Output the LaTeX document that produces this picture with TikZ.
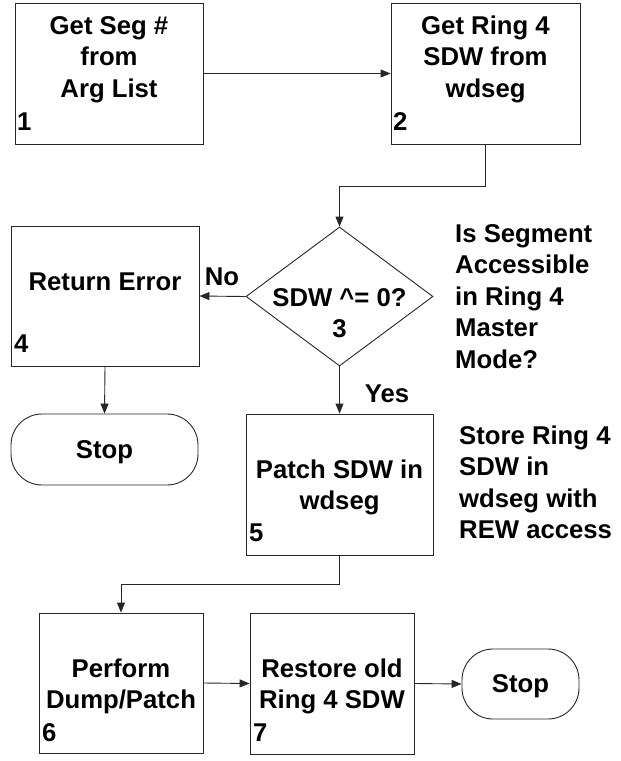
\documentclass[tikz,border=0pt]{standalone}
\usepackage{fontspec}
\setmainfont{Liberation Sans}
\usetikzlibrary{arrows.meta,shapes.geometric}
\newcommand\mlc[1]{\begin{tabular}[t]{@{}c@{}}#1\end{tabular}}
\newcommand\mll[1]{\begin{tabular}[t]{@{}l@{}}#1\end{tabular}}
\tikzset{
  box/.style={draw=black!85, line width=0.9pt, inner sep=0pt, rectangle},
  stopbox/.style={draw=black!85, line width=0.9pt, inner sep=0pt, rectangle, rounded corners=31pt},
  dia/.style={draw=black!85, line width=0.9pt, inner sep=0pt, diamond},
  txt/.style={font=\bfseries\fontsize{25.7}{31.5}\selectfont, inner sep=0pt, anchor=base},
  lefttxt/.style={txt, anchor=base west},
  num/.style={font=\bfseries\fontsize{25.7}{31.5}\selectfont, inner sep=0pt, anchor=base west},
  arr/.style={draw=black!85, line width=0.9pt, -{Triangle[length=10pt,width=8pt]}},
}
\begin{document}
\begin{tikzpicture}[x=1pt,y=-1pt]
\useasboundingbox (0,0) rectangle (621,761);
% shapes
\node[box, minimum width=188pt, minimum height=141pt] (b1) at (109,73.5) {};
\node[box, minimum width=189pt, minimum height=141pt] (b2) at (485.5,73.5) {};
\node[dia, minimum width=187pt, minimum height=139pt] (d3) at (339.5,296.5) {};
\node[box, minimum width=188pt, minimum height=140pt] (b4) at (105,296) {};
\node[stopbox, minimum width=187pt, minimum height=71pt] (s1) at (104.5,449.5) {};
\node[box, minimum width=187pt, minimum height=141pt] (b5) at (339.5,484.5) {};
\node[box, minimum width=164pt, minimum height=140pt] (b6) at (121,683) {};
\node[box, minimum width=164pt, minimum height=141pt] (b7) at (332,683.5) {};
\node[stopbox, minimum width=117pt, minimum height=70pt] (s2) at (520.5,684) {};
% texts
\node[txt] (t1) at (109,34) {\mlc{Get Seg \#\\from\\Arg List}};
\node[txt] (t2) at (485.5,34) {\mlc{Get Ring 4\\SDW from\\wdseg}};
\node[txt] (t3) at (339.5,306) {\mlc{SDW \^{}= 0?\\3}};
\node[txt] (t4) at (105,290) {Return Error};
\node[txt] (ts1) at (104.5,458) {Stop};
\node[txt] (t5) at (339.5,478) {\mlc{Patch SDW in\\wdseg}};
\node[txt] (t6) at (121,677) {\mlc{Perform\\Dump/Patch}};
\node[txt] (t7) at (332,677) {\mlc{Restore old\\Ring 4 SDW}};
\node[txt] (ts2) at (520.5,692) {Stop};
\node[num] (n1) at (17,130) {1};
\node[num] (n2) at (393,130) {2};
\node[num] (n4) at (14,352) {4};
\node[num] (n5) at (249,541) {5};
\node[num] (n6) at (42,741) {6};
\node[num] (n7) at (253,741) {7};
\node[txt] (no) at (222,285) {No};
\node[txt] (yes) at (387,402) {Yes};
\node[lefttxt] (q) at (455,242) {\mll{Is Segment\\Accessible\\in Ring 4\\Master\\Mode?}};
\node[lefttxt] (st) at (459,444) {\mll{Store Ring 4\\SDW in\\wdseg with\\REW access}};
% connectors
\coordinate (j1) at (485.5,186);
\coordinate (j2) at (339.5,584);
\draw[arr] (b1.east) -- (b2.west);
\draw[arr] (b2.south) -- (j1) -| (d3.north);
\draw[arr] (d3.west) -- (b4.east);
\draw[arr] (d3.south) -- (b5.north);
\draw[arr] (b4.south) -- (s1.north);
\draw[arr] (b5.south) -- (j2) -| (b6.north);
\draw[arr] (b6.east) -- (b7.west);
\draw[arr] (b7.east) -- (s2.west);
\end{tikzpicture}
\end{document}
